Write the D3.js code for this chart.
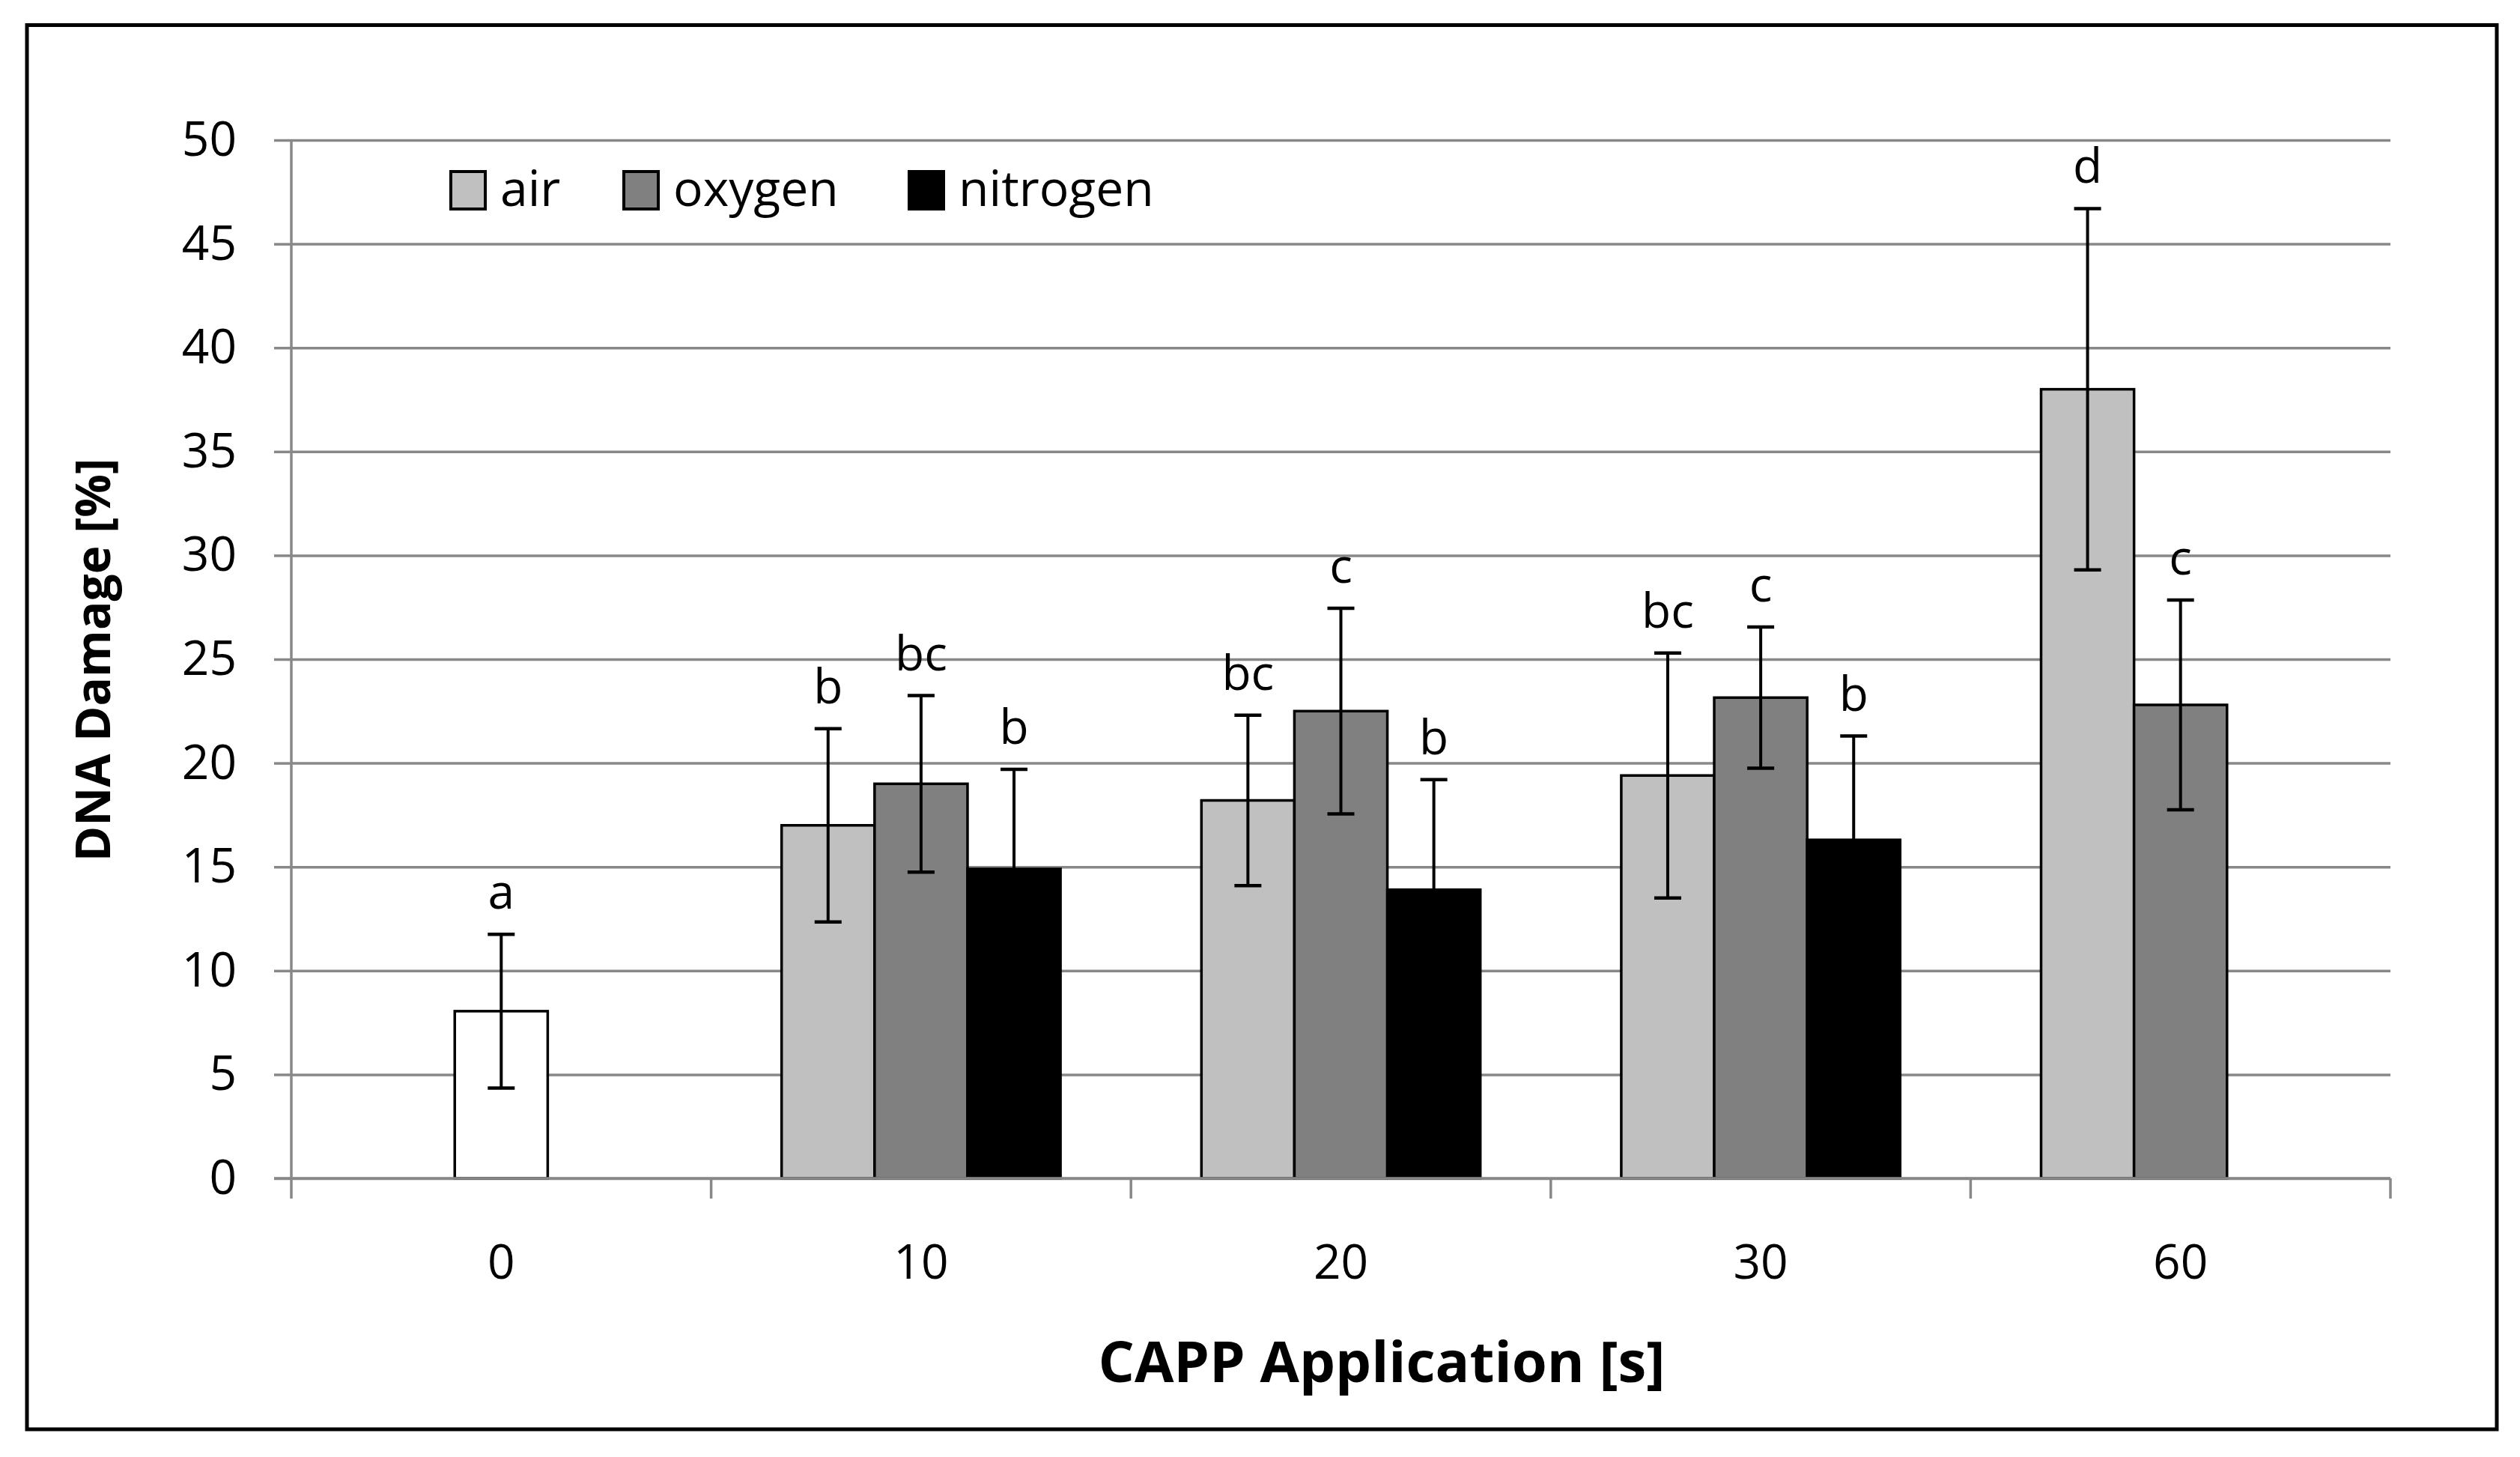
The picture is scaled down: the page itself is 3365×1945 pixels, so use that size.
<!DOCTYPE html>
<html>
<head>
<meta charset="utf-8">
<script src="https://cdn.jsdelivr.net/npm/d3@7/dist/d3.min.js"></script>
<style>
  html, body { margin: 0; padding: 0; background: #fff; }
  svg { display: block; }
  text { font-family: "Open Sans", "Noto Sans", sans-serif; fill: #000; }
</style>
</head>
<body>
<svg id="chart" width="3365" height="1945"></svg>
<script>
// ---- data ----
const categories = ["0", "10", "20", "30", "60"];
const seriesNames = ["air", "oxygen", "nitrogen"];
const controlValues = [8.05, null, null, null, null];
const controlErr = [3.7, null, null, null, null];
const controlLetters = ["a", null, null, null, null];
const airValues = [null, 17.0, 18.2, 19.4, 38.0];
const airErr = [null, 4.65, 4.1, 5.9, 8.7];
const airLetters = [null, "b", "bc", "bc", "d"];
const oxygenValues = [null, 19.0, 22.5, 23.15, 22.8];
const oxygenErr = [null, 4.25, 4.95, 3.4, 5.05];
const oxygenLetters = [null, "bc", "c", "c", "c"];
const nitrogenValues = [null, 14.9, 13.9, 16.3, null];
const nitrogenErr = [null, 4.8, 5.3, 5.0, null];
const nitrogenLetters = [null, "b", "b", "b", null];
const yTicks = [0, 5, 10, 15, 20, 25, 30, 35, 40, 45, 50];
const xTitle = "CAPP Application [s]";
const yTitle = "DNA Damage [%]";

(function () {
// ---- layout ----
const svg = d3.select("#chart");
const pLeft = 389, pRight = 3192, pTop = 187, pBottom = 1573;
const colors = { air: "#c0c0c0", oxygen: "#808080", nitrogen: "#000000", control: "#ffffff" };

const x = d3.scaleBand().domain(categories).range([pLeft, pRight]).paddingInner(0).paddingOuter(0);
const x1 = d3.scaleBand().domain(seriesNames).range([0, x.bandwidth()]).paddingInner(0).paddingOuter(0.758);
const y = d3.scaleLinear().domain([0, 50]).range([pBottom, pTop]);

// outer border
svg.append("rect").attr("x", 36).attr("y", 33.5).attr("width", 3334 - 36).attr("height", 1908 - 33.5)
  .attr("fill", "none").attr("stroke", "#000").attr("stroke-width", 5);

// gridlines
const grid = svg.append("g").attr("transform", `translate(${pLeft},0)`)
  .call(d3.axisLeft(y).tickValues(yTicks).tickSize(-(pRight - pLeft)).tickFormat(""));
grid.select(".domain").remove();
grid.selectAll("line").attr("stroke", "#888").attr("stroke-width", 3.5);

// y axis with labels
const yAxis = svg.append("g").attr("transform", `translate(${pLeft},0)`)
  .call(d3.axisLeft(y).tickValues(yTicks).tickSize(23).tickPadding(50));
yAxis.select(".domain").remove();
yAxis.selectAll("line").attr("stroke", "#888").attr("stroke-width", 3.5);
yAxis.selectAll("text").attr("font-size", 64).attr("font-family", "Open Sans").attr("fill", "#000");

// build records
const rows = [];
function addSeries(key, slot, vals, errs, letters) {
  vals.forEach((v, i) => {
    if (v == null) return;
    rows.push({ key, slot, cat: categories[i], value: v, err: errs[i], letter: letters[i] });
  });
}
addSeries("control", "oxygen", controlValues, controlErr, controlLetters);
addSeries("air", "air", airValues, airErr, airLetters);
addSeries("oxygen", "oxygen", oxygenValues, oxygenErr, oxygenLetters);
addSeries("nitrogen", "nitrogen", nitrogenValues, nitrogenErr, nitrogenLetters);

// bars
svg.append("g").selectAll("rect").data(rows).join("rect")
  .attr("x", d => x(d.cat) + x1(d.slot))
  .attr("y", d => y(d.value))
  .attr("width", x1.bandwidth())
  .attr("height", d => y(0) - y(d.value))
  .attr("fill", d => colors[d.key])
  .attr("stroke", "#000").attr("stroke-width", 3.5);

// x axis line + boundary ticks
const xAxisG = svg.append("g");
xAxisG.append("line").attr("x1", pLeft - 23).attr("x2", pRight).attr("y1", y(0)).attr("y2", y(0))
  .attr("stroke", "#888").attr("stroke-width", 3.5);
xAxisG.append("line").attr("x1", pLeft).attr("x2", pLeft).attr("y1", y(50)).attr("y2", y(0) + 27)
  .attr("stroke", "#888").attr("stroke-width", 3.5);
const bounds = categories.map(c => x(c) + x.bandwidth());
xAxisG.selectAll("line.bt").data(bounds).join("line").attr("class", "bt")
  .attr("x1", d => d).attr("x2", d => d).attr("y1", y(0)).attr("y2", y(0) + 27)
  .attr("stroke", "#888").attr("stroke-width", 3.5);

// x labels
const xLab = svg.append("g").attr("transform", `translate(0,${y(0)})`)
  .call(d3.axisBottom(x).tickSize(0).tickPadding(89));
xLab.select(".domain").remove();
xLab.selectAll("text").attr("font-size", 64).attr("font-family", "Open Sans").attr("fill", "#000");

// error bars
const eb = svg.append("g");
const capW = 36;
rows.forEach(d => {
  const cx = x(d.cat) + x1(d.slot) + x1.bandwidth() / 2;
  const y1 = y(d.value + d.err), y2 = y(d.value - d.err);
  eb.append("line").attr("x1", cx).attr("x2", cx).attr("y1", y1).attr("y2", y2)
    .attr("stroke", "#000").attr("stroke-width", 4);
  [y1, y2].forEach(yy => eb.append("line")
    .attr("x1", cx - capW / 2).attr("x2", cx + capW / 2).attr("y1", yy).attr("y2", yy)
    .attr("stroke", "#000").attr("stroke-width", 4.5));
  if (d.letter) {
    eb.append("text").attr("x", cx).attr("y", y1 - 34).attr("text-anchor", "middle")
      .attr("font-size", 64).text(d.letter);
  }
});

// legend
const legX = [602, 833, 1214];
const lg = svg.append("g");
seriesNames.forEach((s, i) => {
  lg.append("rect").attr("x", legX[i]).attr("y", 229).attr("width", 46).attr("height", 50)
    .attr("fill", colors[s]).attr("stroke", "#000").attr("stroke-width", 4);
  lg.append("text").attr("x", legX[i] + 66).attr("y", 275).attr("font-size", 66).text(s);
});

// axis titles
svg.append("text").attr("x", 1845).attr("y", 1845).attr("text-anchor", "middle")
  .attr("font-size", 76).attr("font-weight", "bold").text(xTitle);
svg.append("text").attr("transform", "translate(147,881) rotate(-90)").attr("text-anchor", "middle")
  .attr("font-size", 64).attr("font-weight", "bold").text(yTitle);
})();
</script>
</body>
</html>
